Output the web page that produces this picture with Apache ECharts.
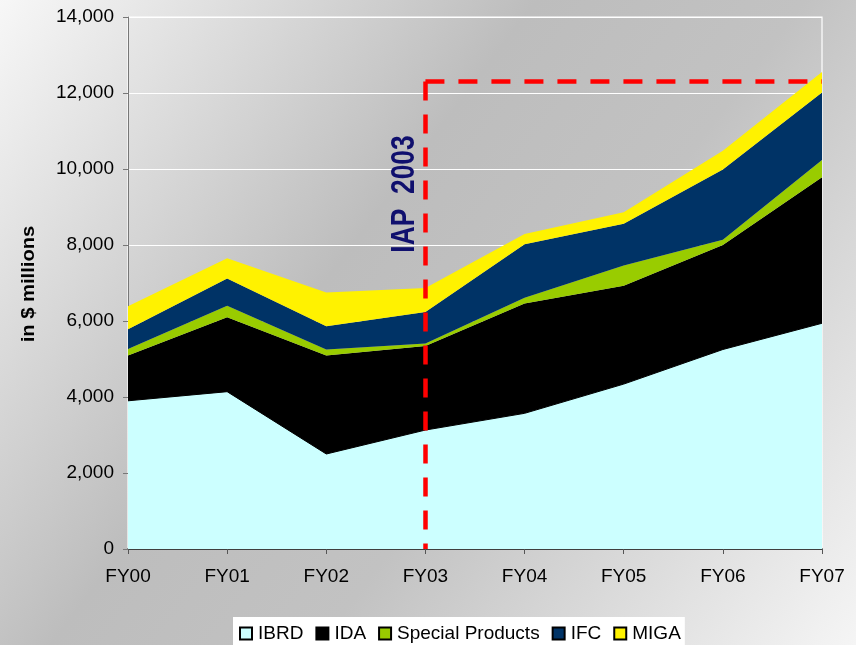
<!DOCTYPE html>
<html>
<head>
<meta charset="utf-8">
<script src="https://cdn.jsdelivr.net/npm/echarts@6/dist/echarts.min.js"></script>
<style>
html,body{margin:0;padding:0;}
#chart{width:856px;height:645px;}
</style>
</head>
<body>
<div id="chart"></div>
<script>
var categories = ['FY00','FY01','FY02','FY03','FY04','FY05','FY06','FY07'];
var ibrd = [3900, 4140, 2500, 3130, 3570, 4340, 5250, 5940];
var ida = [1190, 1960, 2590, 2210, 2890, 2590, 2750, 3840];
var specialProducts = [170, 300, 160, 70, 150, 530, 140, 460];
var ifc = [520, 720, 610, 830, 1410, 1100, 1850, 1770];
var miga = [610, 530, 890, 630, 270, 300, 490, 540];
var yTicks = [0, 2000, 4000, 6000, 8000, 10000, 12000, 14000];
var iapLevel = 12300;
var iapYear = 'FY03';

var chart = echarts.init(document.getElementById('chart'));
var font = 'Liberation Sans, Arial, sans-serif';

function area(name, data, color, line) {
  return {
    name: name, type: 'line', stack: 'total', data: data,
    symbol: 'none', smooth: false,
    lineStyle: line ? { width: 1, color: '#000' } : { width: 0, color: color },
    itemStyle: { color: color, borderColor: '#000', borderWidth: 1 },
    areaStyle: { color: color, opacity: 1 },
    emphasis: { disabled: true }
  };
}

chart.setOption({
  animation: false,
  backgroundColor: {
    type: 'linear', x: 0, y: 0, x2: 1, y2: 1,
    colorStops: [
      { offset: 0, color: '#f7f7f7' },
      { offset: 0.4, color: '#bdbdbd' },
      { offset: 0.6, color: '#c2c2c2' },
      { offset: 1, color: '#f5f5f5' }
    ]
  },
  grid: { left: 128, right: 34, top: 17, bottom: 96, containLabel: false,
    show: true, backgroundColor: 'transparent', borderColor: '#ffffff', borderWidth: 1.2 },
  legend: {
    left: 233, top: 617,
    backgroundColor: '#ffffff',
    padding: [7, 4, 10, 6],
    itemWidth: 12, itemHeight: 12, itemGap: 12,
    icon: 'rect',
    textStyle: { fontFamily: font, fontSize: 19, color: '#000', padding: [0, 0, 0, 1] },
    data: ['IBRD', 'IDA', 'Special Products', 'IFC', 'MIGA']
  },
  xAxis: {
    type: 'category', data: categories, boundaryGap: false,
    axisLine: { show: true, lineStyle: { color: '#000', width: 1.5 } },
    axisTick: { show: true, alignWithLabel: true, length: 5, lineStyle: { color: '#555' } },
    axisLabel: { fontFamily: font, fontSize: 19, color: '#000', margin: 18 },
    splitLine: { show: false }
  },
  yAxis: {
    type: 'value', min: 0, max: 14000, interval: 2000,
    axisLine: { show: true, lineStyle: { color: '#777', width: 1 } },
    axisTick: { show: true, length: 5, inside: false, lineStyle: { color: '#777' } },
    axisLabel: {
      fontFamily: font, fontSize: 19, color: '#000', margin: 14,
      formatter: function (v) { return yTicks.indexOf(v) >= 0 ? v.toLocaleString('en-US') : ''; }
    },
    splitLine: { show: true, lineStyle: { color: '#ffffff', width: 1.2 } }
  },
  series: [
    area('IBRD', ibrd, '#ccffff', true),
    area('IDA', ida, '#000000', false),
    area('Special Products', specialProducts, '#99cc00', false),
    area('IFC', ifc, '#003366', false),
    area('MIGA', miga, '#fff200', false),
    {
      name: 'IAP', type: 'line', data: [], symbol: 'none', z: 10,
      markLine: {
        silent: true, symbol: ['none', 'none'],
        label: { show: false },
        lineStyle: { color: '#ff0000', width: 4.5, type: [19, 14], cap: 'butt' },
        emphasis: { disabled: true },
        data: [
          [{ coord: [iapYear, iapLevel] }, { coord: [iapYear, 0] }],
          [{ coord: [iapYear, iapLevel] }, { coord: ['FY07', iapLevel] }]
        ]
      }
    }
  ],
  graphic: [
    {
      type: 'text', x: 29, y: 284, rotation: Math.PI / 2, scaleX: 1.12,
      style: { text: 'in $ millions', fontFamily: font, fontSize: 18, fontWeight: 'bold',
        fill: '#000', align: 'center', verticalAlign: 'middle' }
    },
    {
      type: 'text', x: 405, y: 194, rotation: Math.PI / 2, scaleX: 0.8, z: 20,
      style: { text: 'IAP  2003', fontFamily: font, fontSize: 33, fontWeight: 'bold',
        fill: '#10106e', align: 'center', verticalAlign: 'middle' }
    }
  ]
});
</script>
</body>
</html>
